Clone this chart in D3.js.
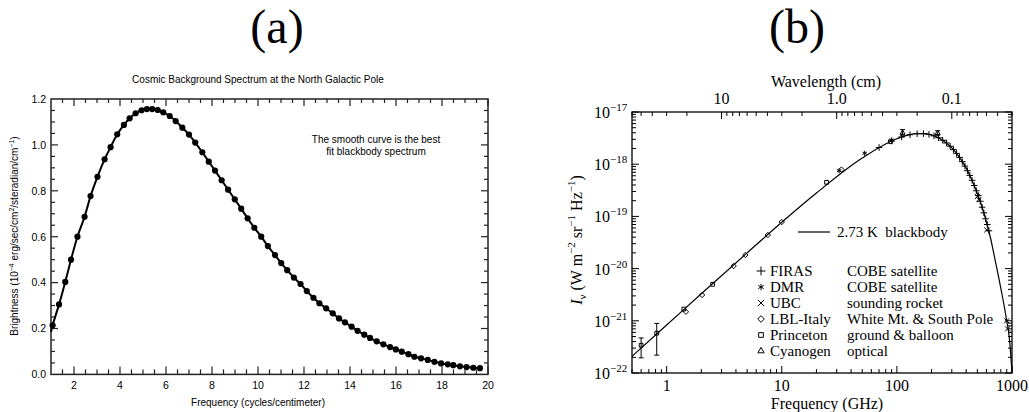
<!DOCTYPE html>
<html>
<head>
<meta charset="utf-8">
<script src="https://cdn.jsdelivr.net/npm/d3@7"></script>
<style>
  body { margin: 0; background: #fff; }
  svg { display: block; }
</style>
</head>
<body>
<svg id="chart" width="1029" height="412"></svg>
<script>
// ---- panel (a): FIRAS spectrum, linear axes ----
const freqA = [1.07, 1.35, 1.62, 1.87, 2.15, 2.46, 2.72, 3.02, 3.33, 3.59, 3.88, 4.17, 4.42, 4.68,
  4.94, 5.17, 5.40, 5.64, 5.88, 6.16, 6.42, 6.71, 7.00, 7.27, 7.58, 7.86, 8.13, 8.42, 8.70, 8.99,
  9.27, 9.55, 9.84, 10.14, 10.43, 10.74, 11.01, 11.27, 11.56, 11.85, 12.12, 12.41, 12.67, 12.96,
  13.25, 13.52, 13.78, 14.07, 14.33, 14.62, 14.87, 15.16, 15.45, 15.74, 15.99, 16.25, 16.54, 16.80,
  17.09, 17.38, 17.67, 17.96, 18.25, 18.49, 18.78, 19.07, 19.36, 19.65];
const brightA = [0.214, 0.305, 0.403, 0.500, 0.600, 0.687, 0.777, 0.861, 0.937, 0.990, 1.046, 1.087,
  1.116, 1.138, 1.151, 1.156, 1.156, 1.152, 1.142, 1.126, 1.104, 1.075, 1.045, 1.010, 0.968, 0.927,
  0.888, 0.846, 0.805, 0.763, 0.722, 0.680, 0.639, 0.600, 0.559, 0.520, 0.485, 0.454, 0.422, 0.394,
  0.363, 0.334, 0.310, 0.288, 0.266, 0.244, 0.227, 0.208, 0.190, 0.173, 0.159, 0.144, 0.131, 0.119,
  0.109, 0.099, 0.088, 0.077, 0.070, 0.063, 0.055, 0.048, 0.044, 0.040, 0.035, 0.032, 0.029, 0.027];
// where the fitted curve meets the left edge
const fitEdgeA = [1.0, 0.185];
const xLabelsA = [2, 4, 6, 8, 10, 12, 14, 16, 18, 20];
const yLabelsA = [0.0, 0.2, 0.4, 0.6, 0.8, 1.0, 1.2];

// ---- panel (b): compilation of measurements, log axes ----
const curveFreqB = [0.5, 1, 2, 5, 10, 20, 50, 100, 150, 170, 200, 250, 300, 350, 400, 450, 500,
  550, 600, 650, 700, 800, 900, 950, 1000];
const curveIB = [2.09e-22, 8.3e-22, 3.3e-21, 2.0e-20, 7.7e-20, 2.8e-19, 1.31e-18, 3.07e-18, 3.84e-18,
  3.85e-18, 3.62e-18, 2.88e-18, 2.05e-18, 1.35e-18, 8.4e-19, 4.9e-19, 2.75e-19, 1.5e-19, 7.8e-20,
  3.9e-20, 1.8e-20, 4.2e-21, 1.0e-21, 4.5e-22, 1.0e-22];

const firasFreq = [70, 90, 110, 130, 150, 170, 190, 210, 230, 250, 270, 290, 310, 330, 350, 370, 390,
  410, 430, 450, 470, 490, 510, 530, 550, 570, 590, 610, 630];
const firasI = [2.09e-18, 2.78e-18, 3.32e-18, 3.67e-18, 3.84e-18, 3.85e-18, 3.72e-18, 3.49e-18,
  3.21e-18, 2.88e-18, 2.55e-18, 2.21e-18, 1.9e-18, 1.61e-18, 1.35e-18, 1.12e-18, 9.2e-19, 7.5e-19,
  6.1e-19, 4.9e-19, 3.9e-19, 3.1e-19, 2.5e-19, 1.95e-19, 1.5e-19, 1.17e-19, 9e-20, 7e-20, 5.3e-20];
const dmrFreq = [31.5, 52.5, 90];
const dmrI = [7.5e-19, 1.62e-18, 2.9e-18];
const ubcFreq = [500, 515, 603, 900, 915];
const ubcI = [2.4e-19, 2.1e-19, 5.5e-20, 1.0e-21, 7e-22];
const lblFreq = [1.47, 2.03, 3.82, 4.82, 7.57, 10.0, 33];
const lblI = [1.49e-21, 3.12e-21, 1.12e-20, 1.82e-20, 4.4e-20, 7.8e-20, 7.9e-19];
const princetonFreq = [0.6, 0.82, 1.41, 2.51, 24.5, 88];
const princetonI = [3.4e-22, 5.8e-22, 1.68e-21, 5.0e-21, 4.5e-19, 2.7e-18];
const princetonLo = [1.95e-22, 2.2e-22, null, null, null, null];
const princetonHi = [4.7e-22, 8.9e-22, null, null, null, null];
const cyanFreq = [112, 226];
const cyanI = [4.0e-18, 3.95e-18];
const cyanLo = [3.6e-18, 3.6e-18];
const cyanHi = [4.6e-18, 4.4e-18];

const xLabelsB = [1, 10, 100, 1000];
const yExpB = [-22, -21, -20, -19, -18, -17];
const wlValuesB = [10, 1, 0.1];
const wlLabelsB = ['10', '1.0', '0.1'];

const legendNames = ['FIRAS', 'DMR', 'UBC', 'LBL-Italy', 'Princeton', 'Cyanogen'];
const legendDesc = ['COBE satellite', 'COBE satellite', 'sounding rocket', 'White Mt. & South Pole',
  'ground & balloon', 'optical'];

let svg = d3.select('#chart');
const sans = '"Liberation Sans", Arial, sans-serif';
const serif = '"Liberation Serif", "Times New Roman", serif';

// panel letters
svg.append('text').attr('x', 277).attr('y', 43).attr('text-anchor', 'middle')
    .style('font-family', serif).style('font-size', '48px').text('(a)');
svg.append('text').attr('x', 797).attr('y', 43).attr('text-anchor', 'middle')
    .style('font-family', serif).style('font-size', '48px').text('(b)');

// ================= panel (a) =================
const ga = svg.append('g');
let xA = d3.scaleLinear().domain([1, 20]).range([51, 488]);
let yA = d3.scaleLinear().domain([0, 1.2]).range([374.4, 99]);

// minor + major ticks, pointing inward on all four sides
let xtA = d3.range(1.5, 20.01, 0.5);
let ytA = d3.range(0.05, 1.2, 0.05);
const isMajX = d => Math.abs(d / 2 - Math.round(d / 2)) < 1e-6;
const isMajY = d => Math.abs(d / 0.2 - Math.round(d / 0.2)) < 1e-6;

ga.append('g').selectAll('line')
    .data(xtA)
    .enter()
    .append('line')
        .attr('x1', d => xA(d)).attr('x2', d => xA(d))
        .attr('y1', yA(0)).attr('y2', d => yA(0) - (isMajX(d) ? 8 : 5))
        .style('stroke', '#222').style('stroke-width', 1.2);
ga.append('g').selectAll('line')
    .data(xtA)
    .enter()
    .append('line')
        .attr('x1', d => xA(d)).attr('x2', d => xA(d))
        .attr('y1', yA(1.2)).attr('y2', d => yA(1.2) + (isMajX(d) ? 7 : 4))
        .style('stroke', '#222').style('stroke-width', 1.2);
ga.append('g').selectAll('line')
    .data(ytA)
    .enter()
    .append('line')
        .attr('y1', d => yA(d)).attr('y2', d => yA(d))
        .attr('x1', xA(1)).attr('x2', d => xA(1) + (isMajY(d) ? 7 : 4))
        .style('stroke', '#222').style('stroke-width', 1.2);
ga.append('g').selectAll('line')
    .data(ytA)
    .enter()
    .append('line')
        .attr('y1', d => yA(d)).attr('y2', d => yA(d))
        .attr('x1', xA(20)).attr('x2', d => xA(20) - (isMajY(d) ? 7 : 4))
        .style('stroke', '#222').style('stroke-width', 1.2);

ga.append('rect')
    .attr('x', xA(1)).attr('y', yA(1.2))
    .attr('width', xA(20) - xA(1)).attr('height', yA(0) - yA(1.2))
    .style('fill', 'none').style('stroke', '#222').style('stroke-width', 1.5);

ga.append('g').selectAll('text')
    .data(xLabelsA)
    .enter()
    .append('text')
        .attr('x', d => xA(d)).attr('y', 389)
        .attr('text-anchor', 'middle')
        .style('font-family', sans).style('font-size', '10.5px')
        .text(d => d);
ga.append('g').selectAll('text')
    .data(yLabelsA)
    .enter()
    .append('text')
        .attr('x', 46).attr('y', d => yA(d) + 3.8)
        .attr('text-anchor', 'end')
        .style('font-family', sans).style('font-size', '10.5px')
        .text(d => d.toFixed(1));

ga.append('text').attr('x', 258).attr('y', 83).attr('text-anchor', 'middle')
    .style('font-family', sans).style('font-size', '10px')
    .text('Cosmic Background Spectrum at the North Galactic Pole');
ga.append('text').attr('x', 258).attr('y', 406).attr('text-anchor', 'middle')
    .style('font-family', sans).style('font-size', '10px')
    .text('Frequency (cycles/centimeter)');
ga.append('text').attr('x', 376).attr('y', 143).attr('text-anchor', 'middle')
    .style('font-family', sans).style('font-size', '10px')
    .text('The smooth curve is the best');
ga.append('text').attr('x', 376).attr('y', 155).attr('text-anchor', 'middle')
    .style('font-family', sans).style('font-size', '10px')
    .text('fit blackbody spectrum');

let ylabA = ga.append('text')
    .attr('transform', 'translate(18, 236) rotate(-90)')
    .attr('text-anchor', 'middle')
    .style('font-family', sans).style('font-size', '10px');
ylabA.append('tspan').text('Brightness (10');
ylabA.append('tspan').attr('dy', -4).style('font-size', '7px').text('\u22124');
ylabA.append('tspan').attr('dy', 4).text(' erg/sec/cm');
ylabA.append('tspan').attr('dy', -4).style('font-size', '7px').text('2');
ylabA.append('tspan').attr('dy', 4).text('/steradian/cm');
ylabA.append('tspan').attr('dy', -4).style('font-size', '7px').text('\u22121');
ylabA.append('tspan').attr('dy', 4).text(')');

let ptsA = freqA.map((f, i) => [f, brightA[i]]);
ga.append('path')
    .datum([fitEdgeA].concat(ptsA))
    .attr('d', d3.line().x(d => xA(d[0])).y(d => yA(d[1])).curve(d3.curveCatmullRom))
    .style('fill', 'none').style('stroke', '#000').style('stroke-width', 2);
ga.append('g').selectAll('circle')
    .data(ptsA)
    .enter()
    .append('circle')
        .attr('cx', d => xA(d[0])).attr('cy', d => yA(d[1]))
        .attr('r', 3.1)
        .style('fill', '#000');

// ================= panel (b) =================
const gb = svg.append('g');
let xB = d3.scaleLog().domain([0.5, 1000]).range([632, 1012]);
let yB = d3.scaleLog().domain([1e-22, 1e-17]).range([373, 112]);
let wB = d3.scaleLog().domain([60, 0.03]).range([632, 1012]);
const isDecade = d => Math.abs(Math.log10(d) - Math.round(Math.log10(d))) < 1e-6;

function tickLines(data, f) {
    gb.append('g').selectAll('line')
        .data(data)
        .enter()
        .append('line')
            .each(function(d) {
                let c = f(d, isDecade(d) ? 7 : 4);
                d3.select(this).attr('x1', c[0]).attr('y1', c[1]).attr('x2', c[2]).attr('y2', c[3]);
            })
            .style('stroke', '#000').style('stroke-width', 1);
}
tickLines(xB.ticks(), (d, l) => [xB(d), 373, xB(d), 373 - l]);
tickLines(wB.ticks(), (d, l) => [wB(d), 112, wB(d), 112 + l]);
tickLines(yB.ticks(), (d, l) => [632, yB(d), 632 + l, yB(d)]);
tickLines(yB.ticks(), (d, l) => [1012, yB(d), 1012 - l, yB(d)]);

gb.append('rect')
    .attr('x', 632).attr('y', 112).attr('width', 380).attr('height', 261)
    .style('fill', 'none').style('stroke', '#000').style('stroke-width', 1.3);

gb.append('g').selectAll('text')
    .data(xLabelsB)
    .enter()
    .append('text')
        .attr('x', d => xB(d)).attr('y', 391)
        .attr('text-anchor', 'middle')
        .style('font-family', serif).style('font-size', '16px')
        .text(d => d);
gb.append('g').selectAll('text')
    .data(wlValuesB)
    .enter()
    .append('text')
        .attr('x', d => wB(d)).attr('y', 104)
        .attr('text-anchor', 'middle')
        .style('font-family', serif).style('font-size', '16px')
        .text((d, i) => wlLabelsB[i]);
let ylabs = gb.append('g').selectAll('text')
    .data(yExpB)
    .enter()
    .append('text')
        .attr('x', 594).attr('y', d => yB(Math.pow(10, d)) + 6)
        .style('font-family', serif).style('font-size', '16px');
ylabs.append('tspan').text('10');
ylabs.append('tspan').attr('dy', -7).style('font-size', '11px').text(d => '\u2212' + Math.abs(d));

gb.append('text').attr('x', 827).attr('y', 408.5).attr('text-anchor', 'middle')
    .style('font-family', serif).style('font-size', '16px')
    .text('Frequency (GHz)');
gb.append('text').attr('x', 826).attr('y', 87).attr('text-anchor', 'middle')
    .style('font-family', serif).style('font-size', '16px')
    .text('Wavelength (cm)');

let ylabB = gb.append('text')
    .attr('transform', 'translate(582, 240) rotate(-90)')
    .attr('text-anchor', 'middle')
    .style('font-family', serif).style('font-size', '16px');
ylabB.append('tspan').style('font-style', 'italic').text('I');
ylabB.append('tspan').attr('dy', 4).style('font-size', '11px').text('\u03bd');
ylabB.append('tspan').attr('dy', -4).text('  (W m');
ylabB.append('tspan').attr('dy', -7).style('font-size', '11px').text('\u22122');
ylabB.append('tspan').attr('dy', 7).text(' sr');
ylabB.append('tspan').attr('dy', -7).style('font-size', '11px').text('\u22121');
ylabB.append('tspan').attr('dy', 7).text(' Hz');
ylabB.append('tspan').attr('dy', -7).style('font-size', '11px').text('\u22121');
ylabB.append('tspan').attr('dy', 7).text(')');

// blackbody curve
gb.append('path')
    .datum(curveFreqB.map((f, i) => [f, curveIB[i]]))
    .attr('d', d3.line().x(d => xB(d[0])).y(d => yB(d[1])).curve(d3.curveMonotoneX))
    .style('fill', 'none').style('stroke', '#000').style('stroke-width', 1.2);

// error bars
function errBars(fr, lo, hi) {
    let g = gb.append('g');
    fr.forEach((f, i) => {
        if (lo[i] == null) return;
        let x = xB(f);
        g.append('line').attr('x1', x).attr('x2', x).attr('y1', yB(lo[i])).attr('y2', yB(hi[i]));
        g.append('line').attr('x1', x - 2.5).attr('x2', x + 2.5).attr('y1', yB(lo[i])).attr('y2', yB(lo[i]));
        g.append('line').attr('x1', x - 2.5).attr('x2', x + 2.5).attr('y1', yB(hi[i])).attr('y2', yB(hi[i]));
    });
    g.selectAll('line').style('stroke', '#000').style('stroke-width', 1);
}
errBars(princetonFreq, princetonLo, princetonHi);
errBars(cyanFreq, cyanLo, cyanHi);

const syms = [d3.symbolPlus, d3.symbolAsterisk, d3.symbolTimes || d3.symbolX,
    d3.symbolDiamond2, d3.symbolSquare2, d3.symbolTriangle2];
const sets = [[firasFreq, firasI], [dmrFreq, dmrI], [ubcFreq, ubcI],
    [lblFreq, lblI], [princetonFreq, princetonI], [cyanFreq, cyanI]];

sets.forEach((s, k) => {
    gb.append('g').selectAll('path')
        .data(s[0].map((f, i) => [f, s[1][i]]))
        .enter()
        .append('path')
            .attr('transform', d => `translate(${xB(d[0])}, ${yB(d[1])})`)
            .attr('d', d3.symbol().type(syms[k]).size(k == 0 ? 16 : 18))
            .style('fill', 'none').style('stroke', '#000').style('stroke-width', 1);
});

// legend
gb.append('line').attr('x1', 798).attr('x2', 830).attr('y1', 232).attr('y2', 232)
    .style('stroke', '#000').style('stroke-width', 1.2);
gb.append('text').attr('x', 837).attr('y', 237)
    .style('font-family', serif).style('font-size', '15px')
    .text('2.73 K\u2002blackbody');

let leg = gb.append('g').selectAll('g')
    .data(legendNames)
    .enter()
    .append('g')
        .attr('transform', (d, i) => `translate(0, ${276 + i * 16})`);
leg.append('path')
    .attr('transform', 'translate(761, -5)')
    .attr('d', (d, i) => d3.symbol().type(syms[i]).size(28)())
    .style('fill', 'none').style('stroke', '#000').style('stroke-width', 1);
leg.append('text')
    .attr('x', 770)
    .style('font-family', serif).style('font-size', '15px')
    .text(d => d);
leg.append('text')
    .attr('x', 847)
    .style('font-family', serif).style('font-size', '15px')
    .text((d, i) => legendDesc[i]);
</script>
</body>
</html>
